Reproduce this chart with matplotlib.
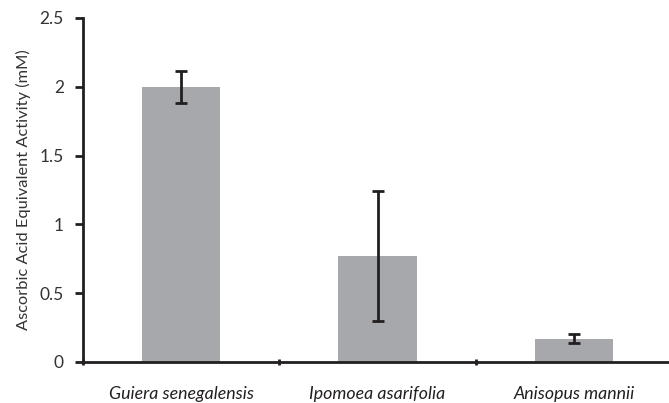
import matplotlib
matplotlib.use("Agg")
import matplotlib.pyplot as plt
import numpy as np

# plant extracts and their antioxidant activity
species = ["Guiera senegalensis", "Ipomoea asarifolia", "Anisopus mannii"]
activity = [2.00, 0.77, 0.17]
errors = [0.115, 0.47, 0.03]
yticks = [0, 0.5, 1, 1.5, 2, 2.5]
yticklabels = ["0", "0.5", "1", "1.5", "2", "2.5"]

plt.rcParams['font.family'] = ['Lato', 'DejaVu Sans']
dark = '#231f20'

fig = plt.figure(figsize=(6.69, 4.03), dpi=100)
ax = fig.add_axes([83/669, 1-362/403, (672-83)/669, (362-18)/403])

x = np.arange(len(species))
ax.bar(x, activity, width=0.4, color='#a7a8ab', zorder=2)
ax.errorbar(x, activity, yerr=errors, fmt='none', ecolor=dark,
            elinewidth=2, capsize=4.5, capthick=2, zorder=3)

ax.set_xlim(-0.5, 2.5)
ax.set_ylim(0, 2.5)
ax.set_yticks(yticks)
ax.set_yticklabels(yticklabels, fontsize=12.5, color='#333333')
ax.set_ylabel("Ascorbic Acid Equivalent Activity (mM)", fontsize=11.8,
              color='#333333', labelpad=6)

# category labels centred on bars, tick marks at the boundaries
ax.set_xticks(x)
ax.set_xticklabels(species, fontsize=12.8, style='italic', color=dark)
ax.tick_params(axis='x', which='major', length=0, pad=17)
ax.set_xticks([-0.5, 0.5, 1.5, 2.5], minor=True)
ax.tick_params(axis='x', which='minor', length=5, width=2, color=dark,
               direction='inout')
ax.tick_params(axis='y', length=5.8, width=2, color=dark, direction='out', pad=8)

for s in ['top', 'right']:
    ax.spines[s].set_visible(False)
for s in ['left', 'bottom']:
    ax.spines[s].set_linewidth(2)
    ax.spines[s].set_color(dark)

fig.savefig("out.png", dpi=100)
